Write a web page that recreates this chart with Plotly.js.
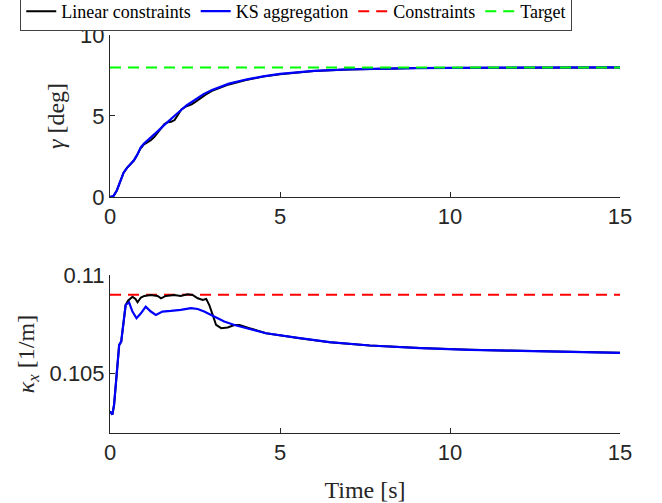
<!DOCTYPE html>
<html>
<head>
<meta charset="utf-8">
<script src="https://cdn.plot.ly/plotly-3.0.1.min.js"></script>
<style>html,body{margin:0;padding:0;background:#fff;}#chart{width:662px;height:503px;}</style>
</head>
<body>
<div id="chart"></div>
<script>
// Top panel: flight path angle gamma [deg]
const tGammaKS = [0, 0.1, 0.2, 0.3, 0.4, 0.5, 0.6, 0.7, 0.8, 0.9, 1.0, 1.2, 1.4, 1.6, 1.8, 2.0, 2.25, 2.5, 2.75, 3.0, 3.5, 4.0, 4.5, 5.0, 5.5, 6, 7, 8, 9, 10, 12, 15];
const gammaKS  = [0, 0.05, 0.4, 1.0, 1.5, 1.8, 2.0, 2.25, 2.6, 3.05, 3.3, 3.65, 4.05, 4.45, 4.85, 5.2, 5.65, 6.0, 6.35, 6.6, 7.0, 7.25, 7.45, 7.6, 7.7, 7.78, 7.88, 7.93, 7.96, 7.97, 7.99, 8.0];
const tGammaLin = [0, 0.1, 0.2, 0.3, 0.4, 0.5, 0.6, 0.7, 0.8, 0.9, 1.0, 1.1, 1.2, 1.3, 1.4, 1.5, 1.6, 1.7, 1.8, 1.9, 2.0, 2.1, 2.25, 2.4, 2.5, 2.65, 2.8, 3.0, 3.5, 4.0, 4.5, 5.0, 5.5, 6, 7, 8, 9, 10, 12, 15];
const gammaLin  = [0, 0.05, 0.4, 1.0, 1.5, 1.8, 2.0, 2.25, 2.6, 3.0, 3.25, 3.35, 3.5, 3.7, 3.95, 4.25, 4.5, 4.62, 4.65, 4.75, 5.05, 5.4, 5.6, 5.72, 5.85, 6.1, 6.3, 6.55, 6.95, 7.22, 7.43, 7.58, 7.69, 7.77, 7.87, 7.93, 7.96, 7.97, 7.99, 8.0];
const gammaTarget = 8;

// Bottom panel: curvature kappa_x [1/m]
const tKappaKS = [0, 0.07, 0.12, 0.17, 0.22, 0.27, 0.33, 0.39, 0.46, 0.56, 0.66, 0.78, 0.91, 1.05, 1.20, 1.35, 1.54, 1.79, 2.08, 2.38, 2.58, 2.77, 3.07, 3.36, 3.66, 4.10, 4.59, 5.58, 6.46, 7.64, 9.12, 10.59, 12.06, 13.54, 15];
const kappaKS  = [0.10310, 0.10293, 0.10343, 0.10444, 0.10580, 0.10646, 0.10663, 0.10747, 0.10848, 0.10862, 0.10815, 0.10781, 0.10806, 0.10840, 0.10815, 0.10798, 0.10815, 0.10818, 0.10823, 0.10832, 0.10828, 0.10815, 0.10790, 0.10764, 0.10747, 0.10727, 0.10705, 0.10680, 0.10660, 0.10643, 0.10630, 0.10621, 0.10615, 0.10610, 0.10606];
const tKappaLin = [0, 0.07, 0.12, 0.17, 0.22, 0.27, 0.33, 0.39, 0.46, 0.53, 0.66, 0.75, 0.81, 0.91, 1.01, 1.20, 1.40, 1.50, 1.64, 1.89, 2.08, 2.28, 2.43, 2.58, 2.73, 2.83, 2.92, 3.02, 3.12, 3.27, 3.46, 3.66, 3.81, 4.10, 4.59, 5.58, 6.46, 7.64, 9.12, 10.59, 12.06, 13.54, 15];
const kappaLin  = [0.10310, 0.10293, 0.10343, 0.10444, 0.10580, 0.10646, 0.10663, 0.10747, 0.10848, 0.10870, 0.10890, 0.10879, 0.10862, 0.10886, 0.10894, 0.10899, 0.10894, 0.10882, 0.10894, 0.10899, 0.10894, 0.10902, 0.10899, 0.10882, 0.10874, 0.10879, 0.10848, 0.10798, 0.10747, 0.10731, 0.10734, 0.10747, 0.10747, 0.10731, 0.10705, 0.10680, 0.10660, 0.10643, 0.10630, 0.10621, 0.10615, 0.10610, 0.10606];
const kappaConstraint = 0.109;

const xRange = [0, 15];
const xTicks = [0, 5, 10, 15];
const gammaTicks = [0, 5, 10];
const kappaTicks = [0.105, 0.11];
const kappaTickText = ['0.105', '0.11'];

const serif = 'Liberation Serif, DejaVu Serif, serif';
const sans = 'Liberation Sans, Arial, sans-serif';
const axCol = '#262626';

const traces = [
  {x: tGammaLin, y: gammaLin, xaxis: 'x', yaxis: 'y', mode: 'lines', name: 'Linear constraints', line: {color: '#000000', width: 2}},
  {x: tGammaKS, y: gammaKS, xaxis: 'x', yaxis: 'y', mode: 'lines', name: 'KS aggregation', line: {color: '#0000ff', width: 2.2}},
  {x: xRange, y: [kappaConstraint, kappaConstraint], xaxis: 'x2', yaxis: 'y2', mode: 'lines', name: 'Constraints', line: {color: '#ff0000', width: 2, dash: '11px,7px'}},
  {x: xRange, y: [gammaTarget, gammaTarget], xaxis: 'x', yaxis: 'y', mode: 'lines', name: 'Target', line: {color: '#00ff00', width: 2, dash: '11px,7px'}},
  {x: tKappaLin, y: kappaLin, xaxis: 'x2', yaxis: 'y2', mode: 'lines', showlegend: false, line: {color: '#000000', width: 2}},
  {x: tKappaKS, y: kappaKS, xaxis: 'x2', yaxis: 'y2', mode: 'lines', showlegend: false, line: {color: '#0000ff', width: 2.2}}
];

const commonX = {
  range: xRange, tickvals: xTicks, showgrid: false, zeroline: false,
  showline: true, linecolor: axCol, linewidth: 1, ticks: 'inside', ticklen: 5, tickcolor: axCol,
  tickfont: {family: sans, size: 22, color: axCol}
};
const commonY = {
  showgrid: false, zeroline: false, showline: true, linecolor: axCol, linewidth: 1,
  ticks: 'inside', ticklen: 5, tickcolor: axCol, tickfont: {family: sans, size: 22, color: axCol}
};

const layout = {
  width: 662, height: 503,
  margin: {l: 110, r: 42, t: 35, b: 70, autoexpand: false},
  paper_bgcolor: '#ffffff', plot_bgcolor: '#ffffff',
  showlegend: true,
  legend: {
    orientation: 'h', x: -0.176, xanchor: 'left', y: 1.108, yanchor: 'top',
    font: {family: serif, size: 18, color: '#000'},
    bgcolor: '#ffffff', bordercolor: '#404040', borderwidth: 1,
    itemwidth: 30, tracegroupgap: 0
  },
  xaxis: Object.assign({}, commonX, {domain: [0, 1], anchor: 'y'}),
  yaxis: Object.assign({}, commonY, {domain: [0.593, 1], range: [0, 10], tickvals: gammaTicks, anchor: 'x',
    title: {text: '<i>γ</i> [deg]', font: {family: serif, size: 24, color: axCol}, standoff: 8}}),
  xaxis2: Object.assign({}, commonX, {domain: [0, 1], anchor: 'y2',
    title: {text: 'Time [s]', font: {family: serif, size: 24, color: axCol}, standoff: 17}}),
  yaxis2: Object.assign({}, commonY, {domain: [0, 0.397], range: [0.102, 0.11], tickvals: kappaTicks, ticktext: kappaTickText, anchor: 'x2',
    title: {text: '<i>κ<sub>x</sub></i> [1/m]', font: {family: serif, size: 24, color: axCol}, standoff: 8}})
};

Plotly.newPlot('chart', traces, layout, {displayModeBar: false, staticPlot: true});
</script>
</body>
</html>
